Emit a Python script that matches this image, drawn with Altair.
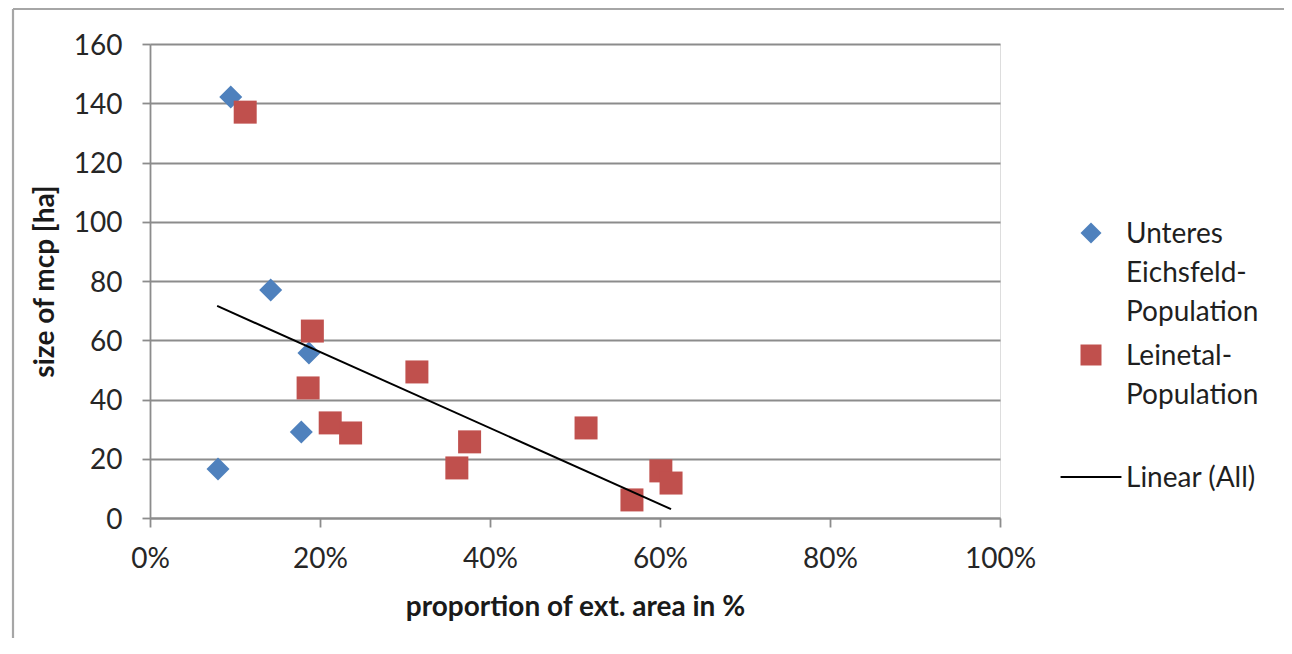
import altair as alt
import pandas as pd

# values
blue_name = "Unteres Eichsfeld-Population"
red_name = "Leinetal-Population"
line_name = "Linear (All)"

blue_x = [9.5, 14.2, 18.7, 17.8, 8.0]
blue_y = [142.1, 77.0, 55.7, 29.0, 16.5]
red_x = [11.2, 19.1, 18.6, 21.2, 23.6, 31.4, 37.6, 36.1, 51.3, 56.7, 60.1, 61.3]
red_y = [137.0, 63.1, 43.9, 32.1, 28.7, 49.3, 25.7, 16.9, 30.4, 6.1, 15.9, 11.8]
trend_x = [7.9, 61.3]
trend_y = [71.6, 3.0]

series_names = [blue_name, red_name, line_name]
series_colors = ["#4F81BD", "#C0504D", "#000000"]
line_path = "M-2.9,-0.1H2.9V0.1H-2.9Z"
series_shapes = ["diamond", "square", line_path]

pts = pd.DataFrame({
    "x": [v / 100 for v in blue_x + red_x],
    "y": blue_y + red_y,
    "series": [blue_name] * len(blue_x) + [red_name] * len(red_x),
})
trend = pd.DataFrame({
    "x": [v / 100 for v in trend_x],
    "y": trend_y,
    "series": [line_name] * len(trend_x),
})

FONT = "Lato"
FS = 28
GRID = "#8c8c8c"
BORDER = "#a6a6a6"
PAD_R = 284

xscale = alt.Scale(domain=[0, 1], nice=False, zero=True)
yscale = alt.Scale(domain=[0, 160], nice=False)
cscale = alt.Scale(domain=series_names, range=series_colors)
sscale = alt.Scale(domain=series_names, range=series_shapes)

xaxis = alt.Axis(
    title="proportion of ext. area in %", format=".0%", values=[0, 0.2, 0.4, 0.6, 0.8, 1.0],
    grid=False, domainColor=GRID, domainWidth=1.8, tickColor=GRID, tickWidth=1.8, tickSize=9,
    labelFont=FONT, labelFontSize=FS, labelColor="#262626", labelPadding=30, labelFlush=False,
    titleFont=FONT, titleFontSize=FS, titleFontWeight="bold", titleColor="#1a1a1a",
    titlePadding=20,
)
yaxis = alt.Axis(
    title="size of mcp [ha]", values=list(range(0, 161, 20)),
    grid=True, gridColor=GRID, gridWidth=1.8, domainColor=GRID, domainWidth=1.8,
    tickColor=GRID, tickWidth=1.8, tickSize=8, labelFlush=False,
    labelFont=FONT, labelFontSize=FS, labelColor="#262626", labelPadding=20,
    labelBaseline="top",
    titleFont=FONT, titleFontSize=FS, titleFontWeight="bold", titleColor="#1a1a1a",
    titlePadding=14,
)

legend = alt.Legend(
    title=None, orient="none", legendX=927, legendY=175,
    labelFont=FONT, labelFontSize=FS, labelColor="#1f1f1f", labelLimit=400,
    labelExpr=(
        "datum.label == '" + blue_name + "' ? ['Unteres', 'Eichsfeld-', 'Population'] : "
        "datum.label == '" + red_name + "' ? ['Leinetal-', 'Population'] : datum.label"
    ),
    labelBaseline="top", labelOffset=21,
    symbolSize=441, symbolStrokeWidth=0, gridAlign="all", rowPadding=14,
)

frame = alt.Data(values=[{"a": 1}])
top_edge = alt.Chart(frame).mark_rule(color=BORDER, strokeWidth=2.2).encode(
    x=alt.value(-137), x2=alt.value(850 + PAD_R), y=alt.value(-35)
)
left_edge = alt.Chart(frame).mark_rule(color=BORDER, strokeWidth=2.2).encode(
    x=alt.value(-137), y=alt.value(-35), y2=alt.value(474 + 120)
)

points = alt.Chart(pts).mark_point(filled=True, opacity=1, size=529).encode(
    x=alt.X("x:Q", scale=xscale, axis=xaxis),
    y=alt.Y("y:Q", scale=yscale, axis=yaxis),
    color=alt.Color("series:N", scale=cscale, legend=legend),
    shape=alt.Shape("series:N", scale=sscale, legend=legend),
)

line = alt.Chart(trend).mark_line(strokeWidth=2).encode(
    x=alt.X("x:Q", scale=xscale),
    y=alt.Y("y:Q", scale=yscale),
    color=alt.Color("series:N", scale=cscale, legend=None),
)

chart = alt.layer(top_edge, left_edge, points, line).properties(
    width=850, height=474,
    autosize=alt.AutoSizeParams(type="none"),
    padding={"left": 142, "top": 36, "right": PAD_R, "bottom": 120},
    background="white",
).configure_view(stroke=None).configure(
    style={"guide-label": {"dy": -12, "lineHeight": 39}}
)

chart.save("out.html", embed_options={"renderer": "svg", "actions": False})
